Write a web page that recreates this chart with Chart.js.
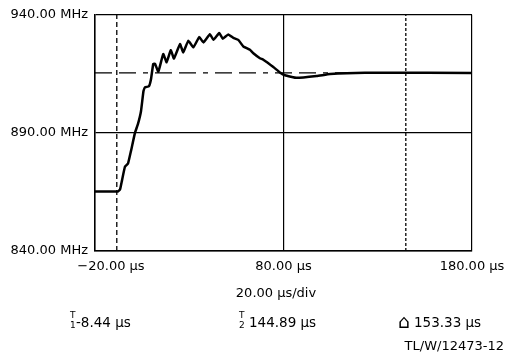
<!DOCTYPE html>
<html>
<head>
<meta charset="utf-8">
<script src="https://cdn.jsdelivr.net/npm/chart.js@4.4.1/dist/chart.umd.min.js"></script>
<style>
  html, body { margin: 0; padding: 0; background: #fff; }
  #wrap { width: 509px; height: 357px; }
</style>
</head>
<body>
<div id="wrap"><canvas id="chart" width="509" height="357"></canvas></div>
<script>
// frequency trace (time in µs, frequency in MHz)
const timeUs = [-20, -7.8, -6.7, -5.7, -4.1, -2.5, -0.9, 1.2, 2.8, 4.4, 5.7, 6.5, 8.6, 9.7,
  10.9, 11.8, 13.6, 16.2, 18.0, 20.2, 21.9, 25.1, 26.8, 29.5, 32.2, 35.3, 37.5, 41.0, 42.8,
  45.9, 47.8, 50.7, 53.4, 56.0, 58.7, 62.2, 64.0, 67.5, 69.3, 74.6, 78.1, 80.8, 87.0, 97.6,
  104.7, 113.5, 132.8, 180];
const freqMHz = [865.2, 865.2, 866.1, 869.8, 875.7, 877.0, 882.4, 890.0, 893.8, 899.2, 907.6,
  909.3, 909.7, 912.7, 919.2, 919.3, 915.9, 923.4, 919.9, 925.0, 921.5, 927.6, 924.1, 929.0,
  926.2, 930.6, 928.3, 931.8, 929.4, 932.3, 929.9, 931.7, 930.2, 929.4, 926.6, 925.2, 923.7,
  921.6, 921.0, 917.9, 915.6, 914.4, 913.3, 914.1, 914.9, 915.3, 915.5, 915.4];

const xTicks = [-20, 80, 180];
const xTickLabels = ['\u221220.00 \u00b5s', '80.00 \u00b5s', '180.00 \u00b5s'];
const yTicks = [840, 890, 940];
const yTickLabels = ['840.00 MHz', '890.00 MHz', '940.00 MHz'];

const cursorT1 = -8.44;
const cursorT2 = 144.89;
const refLevel = 915.4;
const timebase = '20.00 \u00b5s/div';
const readT1 = '-8.44 \u00b5s';
const readT2 = '144.89 \u00b5s';
const readDelta = '153.33 \u00b5s';
const figId = 'TL/W/12473-12';

const FONT = '"DejaVu Sans", sans-serif';

const trace = timeUs.map((t, i) => ({ x: t, y: freqMHz[i] }));

// text drawn under the plot: x tick labels and cursor readouts
const readoutPlugin = {
  id: 'readout',
  afterDraw(chart) {
    const ctx = chart.ctx;
    const xs = chart.scales.x;
    const labelShift = [16, 0, 0];
    ctx.save();
    ctx.fillStyle = '#000';
    ctx.font = '13px ' + FONT;
    ctx.textAlign = 'center';
    ctx.textBaseline = 'middle';
    xTicks.forEach((v, i) => {
      ctx.fillText(xTickLabels[i], xs.getPixelForValue(v) + labelShift[i], 267);
    });
    ctx.fillText(timebase, 276, 294);

    ctx.textAlign = 'left';
    ctx.textBaseline = 'alphabetic';
    ctx.font = '13.5px ' + FONT;
    ctx.fillText(readT1, 76, 327);
    ctx.fillText(readT2, 249, 327);
    ctx.fillText(readDelta, 414, 327);
    ctx.font = '19px ' + FONT;
    ctx.fillText('\u2302', 398, 328);

    ctx.font = '9px ' + FONT;
    ctx.fillText('T', 70, 318);
    ctx.fillText('1', 70, 328);
    ctx.fillText('T', 239, 318);
    ctx.fillText('2', 239, 328);

    ctx.font = '13px ' + FONT;
    ctx.textAlign = 'right';
    ctx.fillText(figId, 504, 350);
    ctx.restore();
  }
};

new Chart(document.getElementById('chart'), {
  type: 'line',
  data: {
    datasets: [
      {
        data: trace,
        borderColor: '#000',
        borderWidth: 2.5,
        pointRadius: 0,
        tension: 0.1
      },
      {
        data: [{ x: cursorT1, y: 840 }, { x: cursorT1, y: 940 }],
        borderColor: '#000',
        borderWidth: 1.3,
        borderDash: [5, 3],
        pointRadius: 0
      },
      {
        data: [{ x: cursorT2, y: 840 }, { x: cursorT2, y: 940 }],
        borderColor: '#000',
        borderWidth: 1.3,
        borderDash: [3, 2],
        pointRadius: 0
      },
      {
        data: [{ x: -20, y: refLevel }, { x: 180, y: refLevel }],
        borderColor: '#000',
        borderWidth: 1.2,
        borderDash: [17, 7, 17, 7, 5, 7],
        pointRadius: 0
      }
    ]
  },
  options: {
    responsive: false,
    animation: false,
    layout: { padding: { left: 0, right: 37, top: 13, bottom: 0 } },
    plugins: {
      legend: { display: false },
      tooltip: { enabled: false }
    },
    scales: {
      x: {
        type: 'linear',
        min: -20,
        max: 180,
        afterBuildTicks(scale) { scale.ticks = xTicks.map(v => ({ value: v })); },
        afterFit(scale) { scale.height = 106; },
        ticks: { display: false },
        grid: { color: '#000', lineWidth: 1.2, drawTicks: false },
        border: { color: '#000', width: 1.5 }
      },
      y: {
        type: 'linear',
        min: 840,
        max: 940,
        afterBuildTicks(scale) { scale.ticks = yTicks.map(v => ({ value: v })); },
        afterFit(scale) { scale.width = 95; },
        ticks: {
          color: '#000',
          font: { family: FONT, size: 13 },
          padding: 7,
          callback: (v) => yTickLabels[yTicks.indexOf(v)]
        },
        grid: { color: '#000', lineWidth: 1.2, drawTicks: false },
        border: { color: '#000', width: 1.5 }
      }
    }
  },
  plugins: [readoutPlugin]
});
</script>
</body>
</html>
